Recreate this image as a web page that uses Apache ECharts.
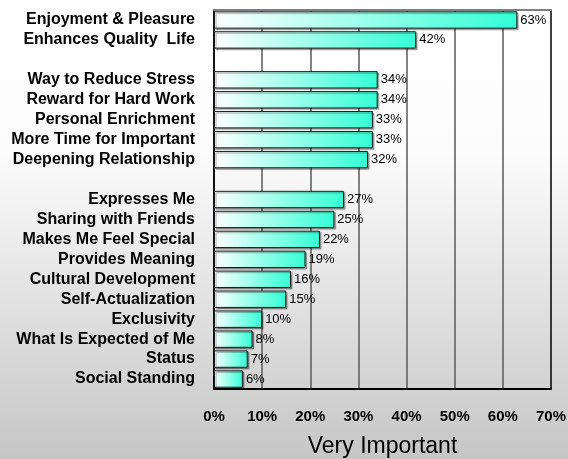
<!DOCTYPE html>
<html>
<head>
<meta charset="utf-8">
<script src="https://cdn.jsdelivr.net/npm/echarts@6/dist/echarts.min.js"></script>
<style>
  html, body { margin: 0; padding: 0; }
  #chart { width: 568px; height: 459px; }
</style>
</head>
<body>
<div id="chart"></div>
<script>
// Reasons rated "Very Important" (percent of respondents); blank rows separate the groups
const categories = [
  'Enjoyment & Pleasure', 'Enhances Quality  Life', '',
  'Way to Reduce Stress', 'Reward for Hard Work', 'Personal Enrichment',
  'More Time for Important', 'Deepening Relationship', ' ',
  'Expresses Me', 'Sharing with Friends', 'Makes Me Feel Special',
  'Provides Meaning', 'Cultural Development', 'Self-Actualization',
  'Exclusivity', 'What Is Expected of Me', 'Status', 'Social Standing'
];
const veryImportant = [
  63, 42, '-',
  34, 34, 33, 33, 32, '-',
  27, 25, 22, 19, 16, 15, 10, 8, 7, 6
];
const xTicks = { min: 0, max: 70, step: 10 };
const axisTitle = 'Very Important';

const FONT = 'Arial, "Liberation Sans", sans-serif';

const chart = echarts.init(document.getElementById('chart'), null, { renderer: 'canvas' });

chart.setOption({
  backgroundColor: new echarts.graphic.LinearGradient(0, 0, 0, 1, [
    { offset: 0, color: '#ffffff' },
    { offset: 0.33, color: '#fcfcfc' },
    { offset: 1, color: '#c6c6c6' }
  ]),
  animation: false,
  grid: {
    left: 214, right: 17, top: 10, bottom: 70,
    containLabel: false,
    outerBoundsMode: 'none'
  },
  xAxis: [
    {
      type: 'value',
      position: 'bottom',
      min: xTicks.min,
      max: xTicks.max,
      interval: xTicks.step,
      name: axisTitle,
      nameLocation: 'middle',
      nameGap: 46,
      nameTextStyle: { fontFamily: FONT, fontSize: 23, color: '#000' },
      axisLine: { show: true, lineStyle: { color: '#000', width: 2 } },
      axisTick: { show: false },
      axisLabel: {
        formatter: '{value}%',
        fontFamily: FONT, fontSize: 15, fontWeight: 'bold', color: '#000',
        margin: 20
      },
      splitLine: {
        show: true,
        lineStyle: {
          color: ['#000', '#5a5a5a', '#5a5a5a', '#5a5a5a', '#5a5a5a', '#5a5a5a', '#5a5a5a', '#000'],
          width: 1.5
        }
      }
    },
    {
      // frame line along the top edge of the plot
      type: 'value',
      position: 'top',
      min: xTicks.min,
      max: xTicks.max,
      interval: xTicks.step,
      axisLine: { show: true, lineStyle: { color: '#808080', width: 2 } },
      axisTick: { show: false },
      axisLabel: { show: false },
      splitLine: { show: false }
    }
  ],
  yAxis: {
    type: 'category',
    data: categories,
    inverse: true,
    axisLine: { show: true, lineStyle: { color: '#000', width: 1.5 } },
    axisTick: { show: false },
    axisLabel: {
      fontFamily: FONT, fontSize: 16, fontWeight: 'bold', color: '#000',
      margin: 19, interval: 0
    },
    splitLine: { show: false }
  },
  series: [{
    type: 'bar',
    xAxisIndex: 0,
    data: veryImportant,
    barCategoryGap: '13%',
    itemStyle: {
      color: new echarts.graphic.LinearGradient(0, 0, 1, 0, [
        { offset: 0, color: '#ffffff' },
        { offset: 1, color: '#33ffd6' }
      ]),
      borderColor: '#1a1a1a',
      borderWidth: 1,
      shadowColor: 'rgba(0,0,0,0.35)',
      shadowOffsetX: 1.5,
      shadowOffsetY: 1.5,
      shadowBlur: 1
    },
    label: {
      show: true,
      position: 'right',
      distance: 3,
      formatter: '{c}%',
      fontFamily: FONT,
      fontSize: 13,
      color: '#000'
    }
  }]
});
</script>
</body>
</html>
